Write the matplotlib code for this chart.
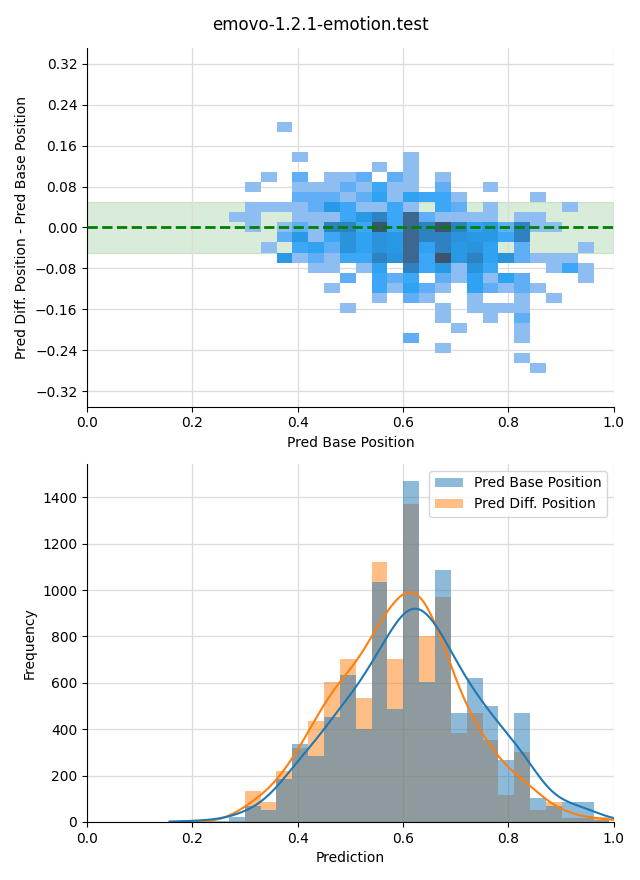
import numpy as np
import matplotlib
matplotlib.use('Agg')
import matplotlib.pyplot as plt
import seaborn as sns

title = 'emovo-1.2.1-emotion.test'

# bottom panel: histogram counts, bins of equal width starting at bin_start
bin_start = 0.179
bin_width = 0.0301
base_counts = [5, 6, 6, 20, 70, 52, 185, 335, 284, 452, 633, 399, 1034, 487,
               1469, 603, 1086, 470, 620, 500, 267, 470, 103, 69, 86, 86, 10]
diff_counts = [0, 0, 0, 5, 133, 86, 220, 318, 435, 602, 702, 534, 1120, 702,
               1371, 801, 971, 383, 470, 353, 116, 302, 52, 86, 17, 17, 22]

# top panel: 2d histogram, one string per row (top row first), '.' = empty
# digit = shade, shade_counts = relative count for it
grid_x0 = 0.2694
grid_dx = 0.0301
grid_dy = 0.0196
grid_top_row = 10
shade_counts = [0, 1, 2.2, 2.8, 3.2, 3.9, 4.3, 5.5, 7.5, 9]
grid_rows = [
    "...1....................",
    "........................",
    "........................",
    "....1......1............",
    ".........1.1............",
    "..1.2.112.21.1..........",
    ".1..11121311.2..1.......",
    "....22212414331....1....",
    ".11112531131.32.1....1..",
    "11..1113573821111.11....",
    ".1.121773938797452711...",
    "...2513646587765537.....",
    "..1.3426465847564.2...1.",
    "...5121337683957462111..",
    ".....11.14.735163...131.",
    ".......2.323.214142...1.",
    "......1..31421.42121....",
    ".........1.21..1..1.1...",
    ".......1.....1.1111.....",
    ".............1..1.2.....",
    "..............1...1.....",
    "...........2......1.....",
    ".............1..........",
    "..................1.....",
    "...................1....",
]

# build cell centres + weights from the grid
xs, ys, ws = [], [], []
for i, row in enumerate(grid_rows):
    r = grid_top_row - i
    for c, ch in enumerate(row):
        if ch != '.':
            xs.append(grid_x0 + (c + 0.5) * grid_dx)
            ys.append(r * grid_dy)
            ws.append(shade_counts[int(ch)])
ncols = len(grid_rows[0])
x_edges = list(grid_x0 + grid_dx * np.arange(ncols + 1))
y_edges = list(grid_dy * (np.arange(-15, 12) - 0.5))

edges = list(bin_start + bin_width * np.arange(len(base_counts) + 1))
centers = [(a + b) / 2 for a, b in zip(edges[:-1], edges[1:])]

fig, (ax1, ax2) = plt.subplots(2, 1, figsize=(6.4, 8.8), dpi=100)
fig.subplots_adjust(left=0.136, right=0.959, top=0.945, bottom=0.066, hspace=0.16)
fig.suptitle(title, fontsize=12, y=0.982)

# --- top: difference vs base position
ax1.axhspan(-0.05, 0.05, color='green', alpha=0.15, zorder=0)
sns.histplot(x=xs, y=ys, weights=ws, bins=(x_edges, y_edges), ax=ax1, zorder=2)
ax1.axhline(0, color='green', linestyle='--', linewidth=2, zorder=3)
ax1.set_xlim(0, 1)
ax1.set_ylim(-0.35, 0.35)
ax1.set_yticks(np.round(np.arange(-0.32, 0.33, 0.08), 2))
ax1.yaxis.set_major_formatter(matplotlib.ticker.FuncFormatter(
    lambda v, pos: f'{v + 0.0:.2f}'.replace('-', '\u2212')))
ax1.set_xlabel('Pred Base Position')
ax1.set_ylabel('Pred Diff. Position - Pred Base Position')

# --- bottom: prediction histograms (diff drawn first, base on top, like hue layering)
kde_opts = dict(bw_adjust=0.5, cut=0.6)
sns.histplot(x=centers, weights=diff_counts, bins=edges, kde=True, color='C1',
             alpha=0.5, linewidth=0, kde_kws=kde_opts,
             line_kws=dict(linewidth=1.5), ax=ax2)
sns.histplot(x=centers, weights=base_counts, bins=edges, kde=True, color='C0',
             alpha=0.5, linewidth=0, kde_kws=kde_opts,
             line_kws=dict(linewidth=1.5), ax=ax2)
ax2.set_xlim(0, 1)
ax2.set_ylim(0, 1545)
ax2.set_yticks(range(0, 1401, 200))
ax2.set_xlabel('Prediction')
ax2.set_ylabel('Frequency')
handles = [matplotlib.patches.Patch(facecolor='C0', alpha=0.5, linewidth=0),
           matplotlib.patches.Patch(facecolor='C1', alpha=0.5, linewidth=0)]
ax2.legend(handles, ['Pred Base Position', 'Pred Diff. Position'], loc='upper right')

for ax in (ax1, ax2):
    ax.set_xticks(np.arange(0, 1.01, 0.2))
    ax.grid(True, color='#dcdcdc', linewidth=0.9)
    ax.set_axisbelow(True)
    ax.spines['top'].set_visible(False)
    ax.spines['right'].set_visible(False)

fig.savefig('out.png')
